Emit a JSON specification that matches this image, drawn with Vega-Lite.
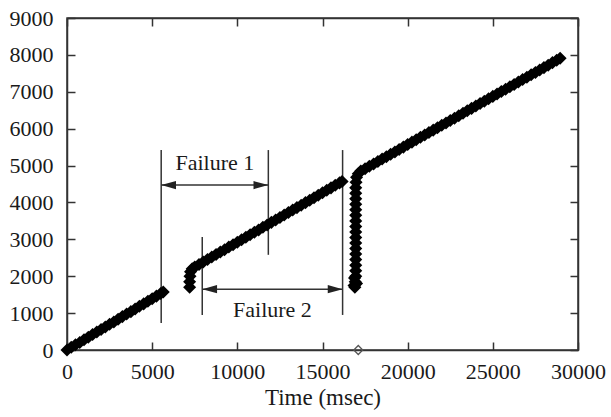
{
  "$schema": "https://vega.github.io/schema/vega-lite/v6.json",
  "width": 511,
  "height": 332,
  "autosize": "none",
  "padding": {"left": 67, "top": 18, "right": 33, "bottom": 67},
  "background": "white",
  "config": {
    "view": {"stroke": "#333", "strokeWidth": 1.5},
    "axis": {"labelFont": "Liberation Serif", "titleFont": "Liberation Serif", "labelFontSize": 22, "titleFontSize": 23, "titleFontWeight": "normal", "labelColor": "#1a1a1a", "titleColor": "#1a1a1a", "grid": false, "domainColor": "#333", "domainWidth": 1.5, "tickColor": "#333", "tickWidth": 1.5}
  },
  "datasets": {
    "pts": [
      {"t": 0, "v": 0}, {"t": 250, "v": 75}, {"t": 500, "v": 140}, {"t": 750, "v": 205}, {"t": 1000, "v": 280}, {"t": 1250, "v": 345}, {"t": 1500, "v": 420}, {"t": 1750, "v": 490}, {"t": 2000, "v": 555}, {"t": 2250, "v": 625}, {"t": 2500, "v": 700}, {"t": 2750, "v": 760}, {"t": 3000, "v": 835}, {"t": 3250, "v": 905}, {"t": 3500, "v": 975}, {"t": 3750, "v": 1040}, {"t": 4000, "v": 1110}, {"t": 4250, "v": 1185}, {"t": 4500, "v": 1250}, {"t": 4750, "v": 1320}, {"t": 5000, "v": 1390}, {"t": 5250, "v": 1460}, {"t": 5500, "v": 1530}, {"t": 5650, "v": 1570},
      {"t": 7200, "v": 1700}, {"t": 7200, "v": 1850}, {"t": 7220, "v": 2000}, {"t": 7250, "v": 2120}, {"t": 7350, "v": 2200},
      {"t": 7500, "v": 2250}, {"t": 7750, "v": 2320}, {"t": 8000, "v": 2385}, {"t": 8250, "v": 2455}, {"t": 8500, "v": 2520}, {"t": 8750, "v": 2590}, {"t": 9000, "v": 2655}, {"t": 9250, "v": 2720}, {"t": 9500, "v": 2790}, {"t": 9750, "v": 2855}, {"t": 10000, "v": 2920}, {"t": 10250, "v": 2990}, {"t": 10500, "v": 3055}, {"t": 10750, "v": 3125}, {"t": 11000, "v": 3190}, {"t": 11250, "v": 3255}, {"t": 11500, "v": 3325}, {"t": 11750, "v": 3390}, {"t": 12000, "v": 3460}, {"t": 12250, "v": 3525}, {"t": 12500, "v": 3590}, {"t": 12750, "v": 3660}, {"t": 13000, "v": 3725}, {"t": 13250, "v": 3795}, {"t": 13500, "v": 3860}, {"t": 13750, "v": 3925}, {"t": 14000, "v": 3995}, {"t": 14250, "v": 4060}, {"t": 14500, "v": 4130}, {"t": 14750, "v": 4195}, {"t": 15000, "v": 4260}, {"t": 15250, "v": 4330}, {"t": 15500, "v": 4395}, {"t": 15750, "v": 4465}, {"t": 16000, "v": 4530}, {"t": 16150, "v": 4570},
      {"t": 16850, "v": 1750}, {"t": 17000, "v": 1800}, {"t": 16880, "v": 1950}, {"t": 16900, "v": 1700}, {"t": 16920, "v": 1850}, {"t": 16950, "v": 2000}, {"t": 16950, "v": 2150}, {"t": 16950, "v": 2300}, {"t": 16950, "v": 2450}, {"t": 16950, "v": 2600}, {"t": 16950, "v": 2750}, {"t": 16950, "v": 2900}, {"t": 16950, "v": 3050}, {"t": 16950, "v": 3200}, {"t": 16950, "v": 3350}, {"t": 16950, "v": 3500}, {"t": 16950, "v": 3650}, {"t": 16950, "v": 3800}, {"t": 16950, "v": 3950}, {"t": 16950, "v": 4100}, {"t": 16950, "v": 4250}, {"t": 16950, "v": 4400}, {"t": 16970, "v": 4550}, {"t": 17000, "v": 4680}, {"t": 17100, "v": 4780},
      {"t": 17250, "v": 4850}, {"t": 17500, "v": 4915}, {"t": 17750, "v": 4980}, {"t": 18000, "v": 5045}, {"t": 18250, "v": 5110}, {"t": 18500, "v": 5175}, {"t": 18750, "v": 5240}, {"t": 19000, "v": 5305}, {"t": 19250, "v": 5370}, {"t": 19500, "v": 5435}, {"t": 19750, "v": 5500}, {"t": 20000, "v": 5570}, {"t": 20250, "v": 5635}, {"t": 20500, "v": 5700}, {"t": 20750, "v": 5765}, {"t": 21000, "v": 5830}, {"t": 21250, "v": 5895}, {"t": 21500, "v": 5960}, {"t": 21750, "v": 6025}, {"t": 22000, "v": 6090}, {"t": 22250, "v": 6155}, {"t": 22500, "v": 6220}, {"t": 22750, "v": 6285}, {"t": 23000, "v": 6350}, {"t": 23250, "v": 6420}, {"t": 23500, "v": 6485}, {"t": 23750, "v": 6550}, {"t": 24000, "v": 6615}, {"t": 24250, "v": 6680}, {"t": 24500, "v": 6745}, {"t": 24750, "v": 6810}, {"t": 25000, "v": 6875}, {"t": 25250, "v": 6940}, {"t": 25500, "v": 7005}, {"t": 25750, "v": 7070}, {"t": 26000, "v": 7135}, {"t": 26250, "v": 7200}, {"t": 26500, "v": 7265}, {"t": 26750, "v": 7330}, {"t": 27000, "v": 7395}, {"t": 27250, "v": 7460}, {"t": 27500, "v": 7525}, {"t": 27750, "v": 7590}, {"t": 28000, "v": 7655}, {"t": 28250, "v": 7720}, {"t": 28500, "v": 7790}, {"t": 28750, "v": 7855}, {"t": 28950, "v": 7910}
    ],
    "vlines": [
      {"x": 5530, "y": 5420, "y2": 730},
      {"x": 11820, "y": 5420, "y2": 2580},
      {"x": 7940, "y": 3060, "y2": 950},
      {"x": 16180, "y": 5420, "y2": 950}
    ],
    "arrows": [
      {"x": 5530, "x2": 11820, "y": 4470},
      {"x": 7940, "x2": 16180, "y": 1650}
    ],
    "headsL": [
      {"x": 5530, "y": 4470},
      {"x": 7940, "y": 1650}
    ],
    "headsR": [
      {"x": 11820, "y": 4470},
      {"x": 16180, "y": 1650}
    ],
    "labels": [
      {"x": 8680, "y": 5070, "text": "Failure 1"},
      {"x": 12060, "y": 1090, "text": "Failure 2"}
    ],
    "hollow": [{"t": 17100, "v": 0}]
  },
  "layer": [
    {
      "data": {"name": "vlines"},
      "mark": {"type": "rule", "color": "#333", "strokeWidth": 1.5},
      "encoding": {
        "x": {"field": "x", "type": "quantitative", "scale": {"domain": [0, 30000], "nice": false}, "axis": {"orient": "bottom", "values": [0, 5000, 10000, 15000, 20000, 25000, 30000], "format": "d", "tickSize": -8, "labelPadding": 19, "title": "Time (msec)", "titlePadding": 4, "labelFlush": false}},
        "y": {"field": "y", "type": "quantitative", "scale": {"domain": [0, 9000], "nice": false}, "axis": {"orient": "left", "values": [0, 1000, 2000, 3000, 4000, 5000, 6000, 7000, 8000, 9000], "tickSize": -8, "labelPadding": 22, "title": null, "format": "d", "labelFlush": false}},
        "y2": {"field": "y2"}
      }
    },
    {
      "data": {"name": "arrows"},
      "mark": {"type": "rule", "color": "#333", "strokeWidth": 1.5},
      "encoding": {
        "x": {"field": "x", "type": "quantitative", "axis": null},
        "x2": {"field": "x2"},
        "y": {"field": "y", "type": "quantitative", "axis": null}
      }
    },
    {
      "data": {"name": "headsL"},
      "mark": {"type": "point", "filled": true, "color": "#222", "size": 220, "opacity": 1, "shape": "M0,0L2,-0.55L2,0.55Z"},
      "encoding": {
        "x": {"field": "x", "type": "quantitative", "axis": null},
        "y": {"field": "y", "type": "quantitative", "axis": null}
      }
    },
    {
      "data": {"name": "headsR"},
      "mark": {"type": "point", "filled": true, "color": "#222", "size": 220, "opacity": 1, "shape": "M0,0L-2,-0.55L-2,0.55Z"},
      "encoding": {
        "x": {"field": "x", "type": "quantitative", "axis": null},
        "y": {"field": "y", "type": "quantitative", "axis": null}
      }
    },
    {
      "data": {"name": "labels"},
      "mark": {"type": "text", "font": "Liberation Serif", "fontSize": 22, "color": "#1a1a1a"},
      "encoding": {
        "x": {"field": "x", "type": "quantitative", "axis": null},
        "y": {"field": "y", "type": "quantitative", "axis": null},
        "text": {"field": "text"}
      }
    },
    {
      "data": {"name": "pts"},
      "mark": {"type": "point", "shape": "diamond", "filled": true, "color": "black", "size": 170, "opacity": 1},
      "encoding": {
        "x": {"field": "t", "type": "quantitative", "axis": null},
        "y": {"field": "v", "type": "quantitative", "axis": null}
      }
    },
    {
      "data": {"name": "hollow"},
      "mark": {"type": "point", "shape": "diamond", "filled": false, "color": "#555", "size": 80, "strokeWidth": 1.3, "opacity": 1},
      "encoding": {
        "x": {"field": "t", "type": "quantitative", "axis": {"orient": "top", "values": [0, 5000, 10000, 15000, 20000, 25000, 30000], "tickSize": -8, "labels": false, "title": null}},
        "y": {"field": "v", "type": "quantitative", "axis": {"orient": "right", "values": [0, 1000, 2000, 3000, 4000, 5000, 6000, 7000, 8000, 9000], "tickSize": -8, "labels": false, "title": null}}
      }
    }
  ],
  "resolve": {"axis": {"x": "independent", "y": "independent"}}
}
